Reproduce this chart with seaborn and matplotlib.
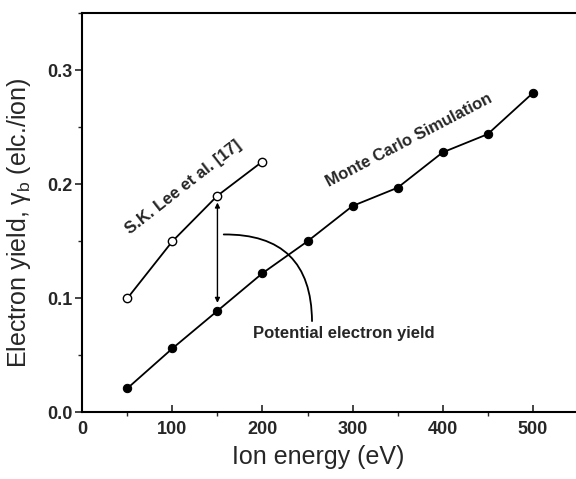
import matplotlib
matplotlib.use("Agg")
import matplotlib.pyplot as plt
import seaborn as sns
import pandas as pd
from matplotlib.ticker import MultipleLocator

# Data
mc_energy = [50, 100, 150, 200, 250, 300, 350, 400, 450, 500]
mc_yield = [0.021, 0.056, 0.089, 0.122, 0.150, 0.181, 0.197, 0.228, 0.244, 0.280]
lee_energy = [50, 100, 150, 200]
lee_yield = [0.100, 0.150, 0.190, 0.220]

x_ticks = [0, 100, 200, 300, 400, 500]
y_ticks = [0.0, 0.1, 0.2, 0.3]
y_tick_labels = ["0.0", "0.1", "0.2", "0.3"]

sns.set_style("ticks")
plt.rcParams['font.family'] = ['Liberation Sans', 'DejaVu Sans']
plt.rcParams['mathtext.fontset'] = 'custom'
plt.rcParams['mathtext.rm'] = 'Liberation Sans'
plt.rcParams['mathtext.it'] = 'Liberation Sans'

fig = plt.figure(figsize=(5.76, 4.79), dpi=100)
ax = fig.add_axes([82.3 / 576, (479 - 412.3) / 479, 1 - 82.3 / 576, 399 / 479])

mc_df = pd.DataFrame({"energy": mc_energy, "yield": mc_yield})
lee_df = pd.DataFrame({"energy": lee_energy, "yield": lee_yield})

sns.lineplot(data=mc_df, x="energy", y="yield", ax=ax, color="black", lw=1.3,
             marker="o", markersize=6, markerfacecolor="black",
             markeredgecolor="black", zorder=3)
sns.lineplot(data=lee_df, x="energy", y="yield", ax=ax, color="black", lw=1.3,
             marker="o", markersize=6, markerfacecolor="white",
             markeredgecolor="black", markeredgewidth=1.0, zorder=3)

ax.set_xlim(0, 548)
ax.set_ylim(0, 0.35)
ax.set_xticks(x_ticks)
ax.set_xticklabels([str(t) for t in x_ticks])
ax.set_yticks(y_ticks)
ax.set_yticklabels(y_tick_labels)
ax.xaxis.set_minor_locator(MultipleLocator(50))
ax.yaxis.set_minor_locator(MultipleLocator(0.05))

for lab in ax.get_xticklabels() + ax.get_yticklabels():
    lab.set_fontweight("bold")
    lab.set_fontsize(13)

ax.tick_params(axis="x", which="major", direction="in", length=5, width=1.2, pad=6)
ax.tick_params(axis="x", which="minor", direction="out", length=3, width=1.0)
ax.tick_params(axis="y", which="major", direction="out", length=5, width=1.2, pad=2)
ax.tick_params(axis="y", which="minor", direction="out", length=3, width=1.0)

ax.spines["right"].set_visible(False)
for s in ["left", "bottom", "top"]:
    ax.spines[s].set_linewidth(1.5)
    ax.spines[s].set_color("black")

ax.set_xlabel("Ion energy (eV)", fontsize=18)
ax.set_ylabel(r"Electron yield, $\gamma_{\mathrm{b}}$ (elc./ion)", fontsize=18)
ax.xaxis.set_label_coords(0.477, -0.082)
ax.yaxis.set_label_coords(-0.1, 0.474)

# Annotations
ax.text(112, 0.197, "S.K. Lee et al. [17]", rotation=38, fontsize=12,
        fontweight="bold", ha="center", va="center", rotation_mode="anchor")
ax.text(363, 0.239, "Monte Carlo Simulation", rotation=27.5, fontsize=12,
        fontweight="bold", ha="center", va="center", rotation_mode="anchor")
ax.text(290, 0.069, "Potential electron yield", fontsize=12,
        fontweight="bold", ha="center", va="center")

ax.annotate("", xy=(150, 0.096), xytext=(150, 0.184),
            arrowprops=dict(arrowstyle="<|-|>", color="black", lw=1.0,
                            mutation_scale=7, shrinkA=0, shrinkB=0))
ax.annotate("", xy=(157, 0.156), xytext=(255, 0.080),
            arrowprops=dict(arrowstyle="-", color="black", lw=1.3,
                            connectionstyle="arc3,rad=0.5",
                            shrinkA=0, shrinkB=0))

fig.savefig("out.png", dpi=100)
